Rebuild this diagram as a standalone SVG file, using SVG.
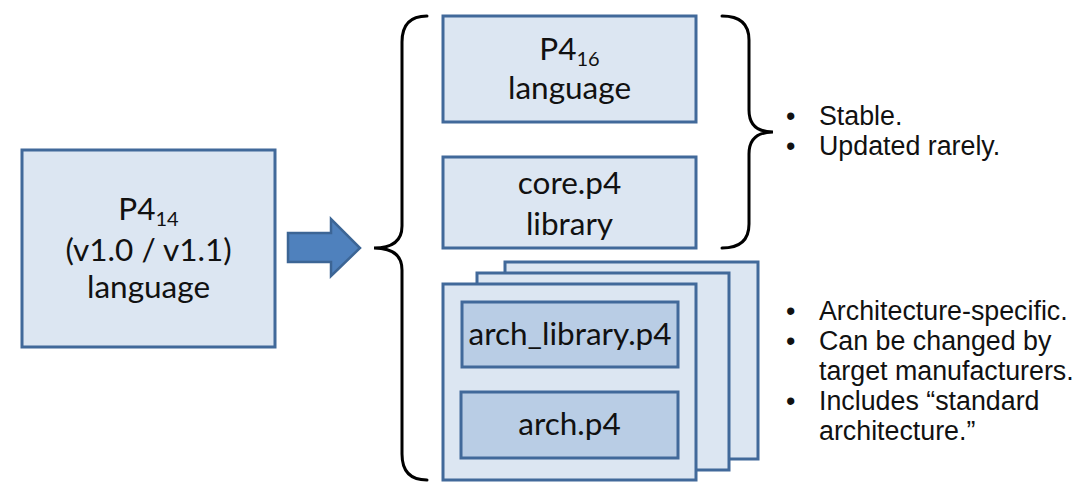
<svg xmlns="http://www.w3.org/2000/svg" width="1087" height="503" viewBox="0 0 1087 503">
<style>
.box{fill:#dce6f2;stroke:#41699a;stroke-width:3}
.inner{fill:#b9cde5;stroke:#41699a;stroke-width:3}
.lbl{font-family:Lato,"Liberation Sans",sans-serif;font-size:31.5px;fill:#111;text-anchor:middle}
.sub{font-size:20px}
.note{font-family:"Liberation Sans",Arial,sans-serif;font-size:26.8px;fill:#111}
.brace{fill:none;stroke:#000;stroke-width:3;stroke-linecap:round}
</style>
<rect width="1087" height="503" fill="#fff"/>
<g id="p414">
<rect class="box" x="22" y="150" width="253" height="197"/>
<text class="lbl" x="148.5" y="220">P4<tspan class="sub" dy="6">14</tspan></text>
<text class="lbl" x="148.5" y="261">(v1.0 / v1.1)</text>
<text class="lbl" x="148.5" y="298">language</text>
</g>
<g id="connectors">
<path d="M288,233 L331,233 L331,219 L360,248 L331,276 L331,262 L288,262 Z" fill="#4f81bd" stroke="#3c6595" stroke-width="2.5" stroke-linejoin="miter"/>
</g>
<g id="left-brace">
<path class="brace" d="M427,16 Q402,16 402,42 L402,226 Q402,248 374,248 Q402,248 402,270 L402,454 Q402,480 427,480"/>
</g>
<g id="p416">
<rect class="box" x="443" y="16" width="253" height="106"/>
<text class="lbl" x="569.5" y="60">P4<tspan class="sub" dy="6">16</tspan></text>
<text class="lbl" x="569.5" y="99">language</text>
</g>
<g id="core">
<rect class="box" x="443" y="157" width="253" height="91"/>
<text class="lbl" x="569.5" y="194">core.p4</text>
<text class="lbl" x="569.5" y="235">library</text>
</g>
<g id="right-brace">
<path class="brace" d="M722,16 Q749,16 749,40 L749,110 Q749,132 773,132 Q749,132 749,154 L749,224 Q749,248 722,248"/>
</g>
<g id="stable-notes">
<text class="note" x="786" y="125">•</text>
<text class="note" x="819" y="125">Stable.</text>
<text class="note" x="786" y="155">•</text>
<text class="note" x="819" y="155">Updated rarely.</text>
</g>
<g id="arch-stack">
<rect class="box" x="505" y="262" width="253" height="197"/>
<rect class="box" x="477" y="273" width="252" height="197"/>
<rect class="box" x="443" y="284" width="253" height="196"/>
</g>
<g id="arch-library">
<rect class="inner" x="462" y="302" width="216" height="65"/>
<text class="lbl" x="570" y="345">arch_library.p4</text>
</g>
<g id="arch">
<rect class="inner" x="461" y="392" width="217" height="66"/>
<text class="lbl" x="569.5" y="435">arch.p4</text>
</g>
<g id="arch-notes">
<text class="note" x="786" y="320">•</text>
<text class="note" x="819" y="320">Architecture-specific.</text>
<text class="note" x="786" y="350">•</text>
<text class="note" x="819" y="350">Can be changed by</text>
<text class="note" x="819" y="380">target manufacturers.</text>
<text class="note" x="786" y="410">•</text>
<text class="note" x="819" y="410">Includes “standard</text>
<text class="note" x="819" y="440">architecture.”</text>
</g>
</svg>
